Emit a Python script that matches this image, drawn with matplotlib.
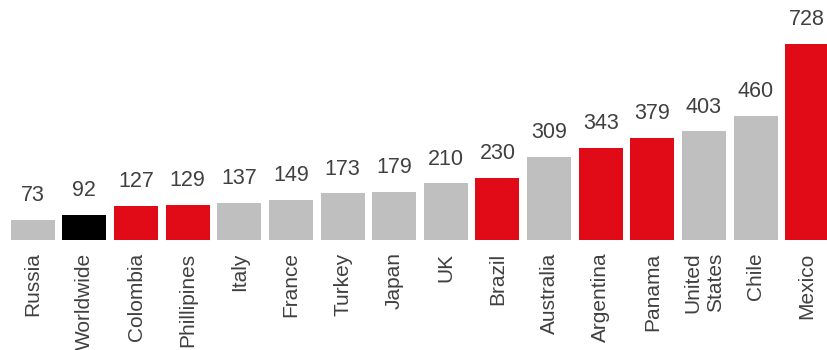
import matplotlib
matplotlib.use("Agg")
import matplotlib.pyplot as plt

categories = ["Russia", "Worldwide", "Colombia", "Phillipines", "Italy", "France",
              "Turkey", "Japan", "UK", "Brazil", "Australia", "Argentina", "Panama",
              "United\nStates", "Chile", "Mexico"]
values = [73, 92, 127, 129, 137, 149, 173, 179, 210, 230, 309, 343, 379, 403, 460, 728]
groups = ["other", "world", "red", "red", "other", "other", "other", "other", "other",
          "red", "other", "red", "red", "other", "other", "red"]

color_map = {"other": "#BFBFBF", "red": "#E00B17", "world": "#000000"}
colors = [color_map[g] for g in groups]

plt.rcParams['font.family'] = ['Liberation Sans', 'DejaVu Sans']
fig = plt.figure(figsize=(8.28, 3.5), dpi=100)
ax = fig.add_axes([7/828, 0.3143, 826/828, 0.6154])
x = list(range(len(categories)))
bars = ax.bar(x, values, width=0.85, color=colors)
ax.set_xlim(-0.5, len(categories) - 0.5)
ax.set_ylim(0, 800)
for xi, v in zip(x, values):
    ax.annotate(str(v), (xi, v), xytext=(0, 10), textcoords="offset points",
                ha="center", va="bottom", fontsize=15.5, color="#404040")
ax.set_xticks(x)
ax.set_xticklabels(categories, rotation=90, fontsize=15, color="#404040",
                   va="top", ha="center", multialignment="right", linespacing=1.25)
ax.tick_params(axis="x", length=0, pad=9)
ax.set_yticks([])
for s in ax.spines.values():
    s.set_visible(False)
fig.savefig("out.png", dpi=100)
